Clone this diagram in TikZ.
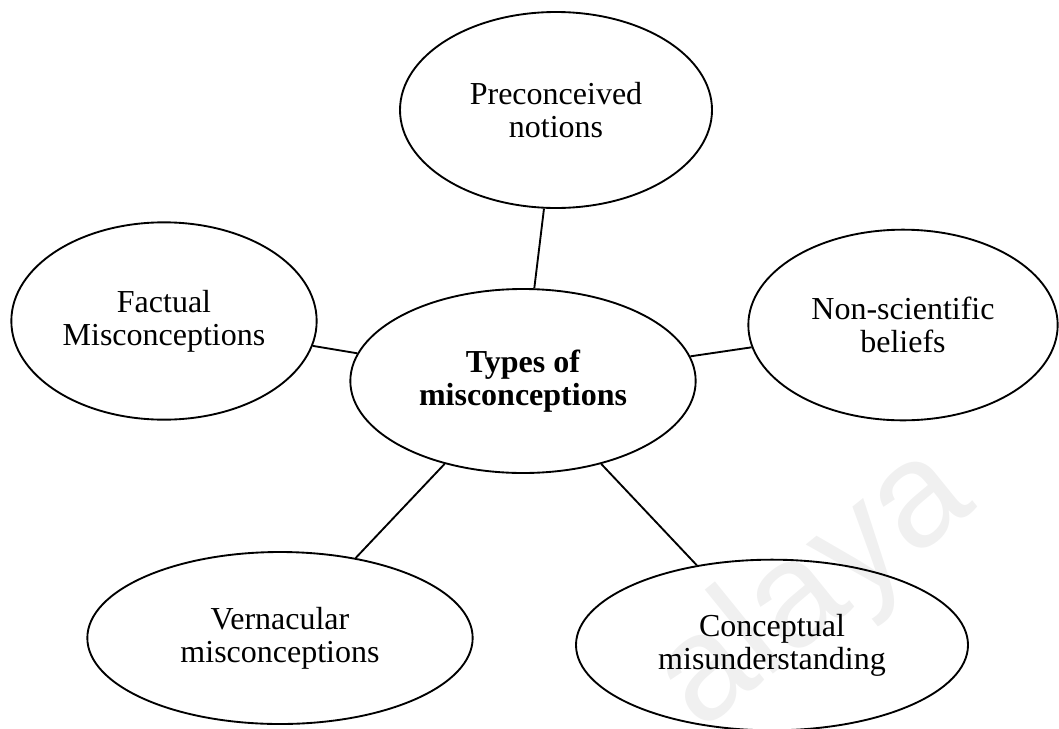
\documentclass[tikz,border=0pt]{standalone}
\usepackage{fontspec}
\setmainfont{Liberation Serif}
\newfontfamily\markfont{Liberation Sans}
\usepackage{xcolor}
\usetikzlibrary{shapes,positioning,backgrounds}

\begin{document}
\begin{tikzpicture}[x=0.75pt,y=-0.75pt,
  bubble/.style={ellipse, draw, line width=1.4pt, inner sep=0pt, align=center,
    font=\fontsize{24}{24.75}\selectfont},
  link/.style={line width=1.4pt}
]
\useasboundingbox (0,0) rectangle (1059,728);

% Centre
\node[bubble, minimum width=259pt, minimum height=138pt, font=\fontsize{24}{24.75}\selectfont\bfseries] (types) at (523,381) {Types of\\misconceptions};

% Upper ring
\node[bubble, minimum width=234pt, minimum height=147pt] (pre) at (556,110) {Preconceived\\notions};
\node[bubble, minimum width=229pt, minimum height=148pt] (fact) at (164,321) {Factual\\Misconceptions};
\node[bubble, minimum width=232pt, minimum height=143pt] (nonsci) at (903,325) {Non-scientific\\beliefs};

% Lower ring
\node[bubble, minimum width=289pt, minimum height=129pt] (vern) at (280,638) {Vernacular\\misconceptions};
\node[bubble, minimum width=294pt, minimum height=128pt] (concept) at (772,645) {Conceptual\\misunderstanding};

% Connections
\draw[link] (types) -- (pre);
\draw[link] (types) -- (fact);
\draw[link] (types) -- (nonsci);
\draw[link] (types) -- (vern);
\draw[link] (types) -- (concept);

% Watermark
\begin{scope}[on background layer]
\node[text=black!6, rotate=39, font=\markfont\fontsize{112}{112}\selectfont] (mark) at (815,590) {alaya};
\end{scope}
\end{tikzpicture}
\end{document}
